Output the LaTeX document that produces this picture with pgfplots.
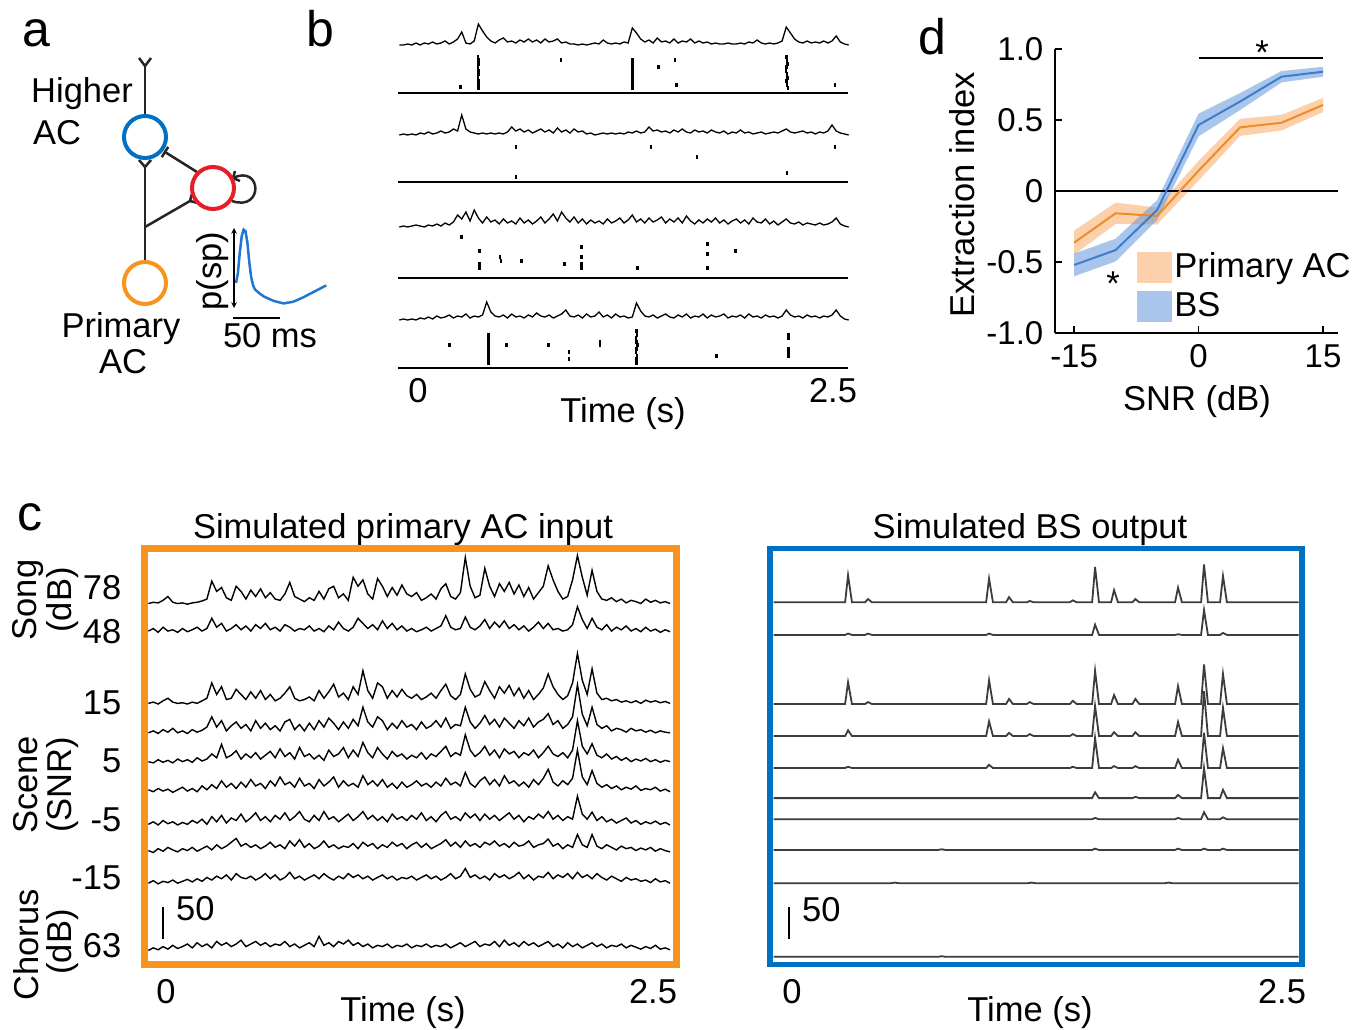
\documentclass[border=0pt]{standalone}
\usepackage{fontspec}
\setmainfont{Liberation Sans}
\usepackage{pgfplots}
\pgfplotsset{compat=1.18}
\definecolor{acOrange}{RGB}{247,148,30}
\definecolor{bsBlue}{RGB}{0,112,192}
\definecolor{inRed}{RGB}{230,30,40}
\definecolor{lnOrange}{RGB}{240,140,40}
\definecolor{lnBlue}{RGB}{60,125,205}
\definecolor{bdOrange}{RGB}{248,170,100}
\definecolor{bdBlue}{RGB}{100,150,220}
\definecolor{trGray}{RGB}{60,60,60}
\definecolor{spBlue}{RGB}{30,120,210}

% one trace per call: offset, values (one per time step)
\newcommand{\ctrace}[2]{\addplot[black, line width=1.4pt] table[row sep=\\, header=false, x expr=\coordindex*0.025-0.09, y expr=\thisrowno{0}+#1] {#2};}
\newcommand{\btrace}[2]{\addplot[black, line width=1.3pt] table[row sep=\\, header=false, x expr=\coordindex*0.025-0.1, y expr=\thisrowno{0}+#1] {#2};}
\newcommand{\rtrace}[2]{\addplot[trGray, line width=1.8pt] table[row sep=\\, header=false, x index=0, y expr=\thisrowno{1}+#1] {#2};}

\begin{document}
\fontsize{34.5}{41}\selectfont
\begin{tikzpicture}
\path[use as bounding box] (0,0) rectangle (1368pt,-1030pt);

\begin{scope}[x=1pt, y=1pt]
% panel letters
\node[font=\fontsize{50}{60}\selectfont, anchor=base] at (36,-47) {a};
\node[font=\fontsize{50}{60}\selectfont, anchor=base] at (320,-47) {b};
\node[font=\fontsize{50}{60}\selectfont, anchor=base] at (30,-530) {c};
\node[font=\fontsize{50}{60}\selectfont, anchor=base] at (932,-55) {d};

% ---- panel a: circuit
\draw[line width=2.5pt, black!85] (139,-58) -- (145,-66) -- (151,-58);
\draw[line width=2.5pt, black!85] (145,-66) -- (145,-115);
\draw[line width=2.5pt, black!85] (139,-160) -- (145,-167) -- (151,-160);
\draw[line width=2.5pt, black!85] (145,-167) -- (145,-261);
\draw[line width=2.5pt, black!85] (145,-227) -- (190,-201);
\draw[line width=2.5pt, black!85] (191.8,-194.2) -- (190,-201) -- (196.8,-202.8);
\draw[line width=2.5pt, black!85] (197,-172) -- (165,-152);
\draw[line width=2.5pt, black!85] (168.2,-146.9) -- (161.8,-157.1);
\draw[line width=2.5pt, black!85] (233,-178) .. controls (262,-164) and (264,-212) .. (232,-201);
\draw[line width=2.5pt, black!85] (235,-171) -- (233,-178) -- (240,-181);
\draw[bsBlue, line width=4pt] (145,-137) circle (21);
\draw[inRed, line width=4pt] (213,-188) circle (21);
\draw[acOrange, line width=4pt] (145,-283) circle (21);
\node[anchor=base] at (82,-103) {Higher};
\node[anchor=base] at (57,-145) {AC};
\node[anchor=base] at (121,-337) {Primary};
\node[anchor=base] at (123,-373) {AC};
\node[rotate=90] at (213,-271) {p(sp)};
\draw[<->, >=stealth, line width=1.5pt] (234,-228) -- (234,-308);
\draw[line width=2pt] (233,-318) -- (280,-318);
\node[anchor=base] at (270,-347) {50 ms};

% ---- panel b labels
\node[anchor=base] at (418,-402) {0};
\node[anchor=base] at (833,-402) {2.5};
\node[anchor=base] at (623,-422) {Time (s)};

% ---- panel d labels
\node[rotate=90] at (962,-195) {Extraction index};
\node[anchor=base] at (1197,-410) {SNR (dB)};
\node[anchor=base] at (1262,-65) {*};
\node[anchor=base] at (1113,-295) {*};

% ---- panel c labels
\node[anchor=base] at (403,-538) {Simulated primary AC input};
\node[anchor=base] at (1030,-538) {Simulated BS output};
\node[anchor=base east] at (133,-599) {78};
\node[anchor=base east] at (133,-643) {48};
\node[anchor=base east] at (133,-714) {15};
\node[anchor=base east] at (133,-772) {5};
\node[anchor=base east] at (133,-831) {-5};
\node[anchor=base east] at (133,-889) {-15};
\node[anchor=base east] at (133,-957) {63};
\node[rotate=90] at (28,-600) {Song};
\node[rotate=90] at (63,-600) {(dB)};
\node[rotate=90] at (26,-785) {Scene};
\node[rotate=90] at (63,-785) {(SNR)};
\node[rotate=90] at (26,-945) {Chorus};
\node[rotate=90] at (63,-942) {(dB)};
\node[anchor=base] at (166,-1003) {0};
\node[anchor=base] at (653,-1003) {2.5};
\node[anchor=base] at (403,-1021) {Time (s)};
\node[anchor=base] at (792,-1003) {0};
\node[anchor=base] at (1282,-1003) {2.5};
\node[anchor=base] at (1030,-1021) {Time (s)};
\draw[line width=1.5pt] (163,-907) -- (163,-939);
\node[anchor=base west, inner sep=0pt] at (176,-920) {50};
\draw[line width=1.5pt] (789,-907) -- (789,-939);
\node[anchor=base west, inner sep=0pt] at (802,-921) {50};
\end{scope}

% ---- panel a inset: spike probability waveform
\begin{axis}[at={(236pt,-310pt)}, anchor=south west, scale only axis,
  width=95pt, height=82pt, xmin=0, xmax=100, ymin=0, ymax=1, hide axis, clip=false]
\addplot[spBlue, line width=2.5pt] coordinates {(0,0.33)(2,0.45)(4,0.7)(6,0.9)(8,0.98)(10,0.96)(12,0.82)(14,0.58)(16,0.4)(18,0.3)(20,0.25)(25,0.2)(30,0.16)(40,0.11)(50,0.08)(60,0.1)(70,0.15)(80,0.21)(90,0.27)(95,0.3)};
\end{axis}

% ---- panel b: traces and rasters
\begin{axis}[at={(398pt,-375pt)}, anchor=south west, scale only axis,
  width=450pt, height=360pt, xmin=-0.108, xmax=2.596, ymin=0, ymax=360,
  hide axis, clip=false]
\btrace{330}{0\\0\\1\\0\\2\\0\\2\\1\\3\\1\\2\\4\\1\\3\\6\\13\\2\\1\\4\\21\\14\\8\\4\\2\\5\\7\\3\\4\\2\\5\\3\\6\\3\\5\\2\\6\\3\\4\\6\\2\\3\\1\\1\\0\\1\\0\\1\\2\\1\\5\\2\\1\\2\\1\\3\\2\\17\\12\\6\\3\\5\\2\\7\\3\\4\\2\\6\\2\\4\\3\\6\\2\\4\\2\\3\\1\\2\\1\\1\\2\\1\\1\\2\\1\\3\\2\\5\\2\\1\\2\\1\\2\\4\\18\\12\\6\\3\\2\\4\\2\\3\\2\\4\\2\\4\\9\\3\\1\\0\\}
\btrace{240}{0\\1\\0\\1\\0\\2\\1\\3\\1\\2\\4\\2\\3\\6\\4\\20\\6\\3\\2\\1\\2\\1\\2\\1\\2\\1\\3\\8\\4\\6\\3\\5\\2\\4\\6\\3\\5\\2\\7\\3\\5\\2\\6\\3\\4\\1\\2\\0\\1\\2\\1\\2\\1\\2\\1\\3\\2\\4\\2\\3\\8\\4\\5\\3\\4\\2\\5\\3\\6\\3\\2\\5\\3\\4\\2\\5\\3\\2\\4\\1\\3\\2\\5\\2\\3\\1\\2\\3\\1\\2\\3\\2\\4\\6\\3\\2\\3\\4\\2\\3\\1\\3\\2\\4\\10\\4\\2\\1\\0\\}
\btrace{148}{0\\1\\0\\1\\2\\1\\0\\2\\1\\3\\1\\4\\2\\5\\12\\8\\15\\6\\17\\9\\4\\10\\5\\7\\3\\8\\4\\6\\3\\9\\4\\7\\3\\6\\10\\4\\8\\13\\6\\15\\9\\5\\10\\4\\8\\3\\7\\4\\6\\3\\8\\4\\6\\9\\4\\7\\12\\5\\8\\4\\9\\5\\7\\10\\4\\8\\5\\9\\4\\11\\6\\3\\7\\4\\8\\5\\9\\4\\7\\3\\6\\8\\4\\7\\3\\9\\5\\4\\8\\3\\6\\2\\5\\8\\4\\3\\5\\2\\4\\3\\2\\4\\2\\3\\5\\9\\3\\1\\0\\}
\btrace{55}{0\\1\\0\\1\\0\\2\\1\\3\\1\\4\\2\\3\\5\\2\\4\\3\\6\\2\\4\\3\\5\\18\\8\\4\\3\\5\\2\\6\\3\\4\\2\\5\\3\\7\\4\\3\\5\\2\\4\\6\\10\\4\\3\\5\\2\\6\\3\\4\\8\\3\\5\\2\\6\\3\\4\\2\\3\\17\\9\\4\\3\\5\\2\\4\\6\\3\\2\\5\\3\\6\\2\\4\\3\\6\\2\\5\\3\\4\\6\\2\\4\\3\\5\\2\\6\\3\\4\\2\\5\\3\\4\\2\\4\\10\\5\\3\\4\\2\\5\\3\\4\\2\\4\\3\\5\\10\\4\\1\\0\\}
\pgfplotsset{raster/.style={only marks, mark=|, mark size=2pt, mark options={line width=2.6pt}, black}}
\addplot[raster] coordinates {(0.269,288)(0.372,318)(0.376,314.5)(0.374,311)(0.372,307.5)(0.375,304)(0.377,300.5)(0.373,297)(0.375,293.5)(0.374,290)(0.376,286.5)(0.871,314.5)(1.30,314.5)(1.30,311)(1.30,307.5)(1.30,304)(1.30,300.5)(1.30,297)(1.30,293.5)(1.30,290)(1.30,286.5)(1.456,307.5)(1.556,314.5)(1.567,290)(2.226,318)(2.230,314.5)(2.233,311)(2.228,307.5)(2.224,304)(2.229,300.5)(2.233,297)(2.226,293.5)(2.230,290)(2.236,286.5)(2.518,290)};
\addplot[raster] coordinates {(0.601,228)(0.601,198.3)(1.412,228)(1.689,218)(2.23,201.6)(2.518,228)};
\addplot[raster] coordinates {(0.275,138)(0.380,124.4)(0.380,110.8)(0.380,107.4)(0.505,117.6)(0.51,114.2)(0.635,114.2)(0.891,110.8)(0.996,127.8)(0.996,117.6)(0.996,110.8)(0.996,107.4)(1.33,107.4)(1.753,131.2)(1.753,121)(1.753,107.4)(1.921,124.4)};
\addplot[raster] coordinates {(0.2,30)(0.435,40.5)(0.435,37)(0.435,33.5)(0.435,30)(0.435,26.5)(0.435,23)(0.435,19.5)(0.435,16)(0.435,12.5)(0.545,30)(0.795,30)(0.919,23)(0.919,16)(1.106,33.5)(1.106,30)(1.325,44)(1.328,40.5)(1.322,37)(1.326,33.5)(1.33,30)(1.324,26.5)(1.321,23)(1.327,19.5)(1.324,16)(1.326,12.5)(1.807,19.5)(2.238,40.5)(2.238,37)(2.238,26.5)(2.238,23)(2.238,19.5)};
\addplot[black, line width=2pt] coordinates {(-0.108,282)(2.596,282)};
\addplot[black, line width=2pt] coordinates {(-0.108,193)(2.596,193)};
\addplot[black, line width=2pt] coordinates {(-0.108,97)(2.596,97)};
\addplot[black, line width=2pt] coordinates {(-0.108,7)(2.596,7)};
\end{axis}

% ---- panel d: extraction index
\begin{axis}[at={(1055pt,-333pt)}, anchor=south west, scale only axis,
  width=283pt, height=284pt, xmin=-17.3, xmax=16.8, ymin=-1, ymax=1,
  axis x line=bottom, axis y line=left, axis line style={-, line width=1.5pt},
  xtick={-15,0,15}, xticklabels={-15,0,15},
  ytick={-1,-0.5,0,0.5,1}, yticklabels={-1.0,-0.5,0,0.5,1.0},
  tick align=inside, major tick length=7pt, tick style={line width=1.5pt, black},
  tick label style={font=\fontsize{33}{39}\selectfont},
  clip=false, legend cell align=left,
  legend style={at={(0.290,0.290)}, anchor=north west, draw=none, fill=none,
    inner sep=0pt, row sep=5pt, nodes={inner sep=2pt}, font=\fontsize{34.5}{41}\selectfont},
  legend image code/.code={\fill[#1] (0pt,-15pt) rectangle (35pt,16pt);}]
\addplot[fill=bdOrange, fill opacity=0.55, draw=none] coordinates {(-15,-0.279)(-10,-0.082)(-5,-0.116)(0,0.213)(5,0.508)(10,0.536)(15,0.656)(15,0.556)(10,0.426)(5,0.388)(0,0.073)(-5,-0.236)(-10,-0.232)(-15,-0.449)} -- cycle;
\addlegendentry{Primary AC}
\addplot[fill=bdBlue, fill opacity=0.55, draw=none] coordinates {(-15,-0.441)(-10,-0.336)(-5,-0.064)(0,0.545)(5,0.69)(10,0.845)(15,0.875)(15,0.805)(10,0.765)(5,0.57)(0,0.385)(-5,-0.204)(-10,-0.496)(-15,-0.601)} -- cycle;
\addlegendentry{BS}
\addplot[black, line width=1.5pt, forget plot] coordinates {(-17.3,0)(16.8,0)};
\addplot[lnOrange, line width=2pt, forget plot] coordinates {(-15,-0.364)(-10,-0.157)(-5,-0.176)(0,0.143)(5,0.448)(10,0.481)(15,0.606)};
\addplot[lnBlue, line width=2pt, forget plot] coordinates {(-15,-0.521)(-10,-0.416)(-5,-0.134)(0,0.465)(5,0.63)(10,0.805)(15,0.84)};
\draw[line width=1.5pt] (axis cs:0,0.937) -- (axis cs:15,0.937);
\end{axis}

% ---- panel c left: simulated primary AC input
\begin{axis}[at={(144.5pt,-964.5pt)}, anchor=south west, scale only axis,
  width=532pt, height=416pt, xmin=-0.110, xmax=2.618, ymin=0, ymax=650,
  hide axis, clip mode=individual]
\ctrace{561}{3\\5\\4\\8\\14\\5\\3\\4\\2\\4\\5\\7\\10\\38\\22\\28\\12\\8\\30\\22\\10\\24\\14\\26\\12\\20\\10\\8\\18\\36\\14\\10\\6\\12\\8\\22\\10\\26\\30\\12\\18\\8\\44\\30\\40\\18\\10\\42\\30\\14\\28\\16\\32\\18\\14\\20\\8\\12\\18\\10\\26\\34\\14\\10\\20\\75\\30\\12\\16\\58\\30\\14\\34\\22\\36\\18\\32\\14\\28\\10\\20\\30\\62\\40\\22\\10\\14\\40\\78\\44\\16\\55\\22\\10\\8\\12\\6\\10\\4\\8\\6\\3\\10\\5\\8\\4\\6\\3\\}
\ctrace{515}{6\\10\\4\\12\\6\\8\\4\\10\\5\\8\\12\\6\\10\\26\\12\\18\\6\\10\\16\\8\\14\\6\\16\\10\\18\\8\\12\\6\\16\\12\\6\\10\\8\\14\\6\\10\\5\\14\\8\\20\\10\\6\\12\\26\\18\\10\\16\\8\\22\\10\\18\\8\\14\\6\\10\\5\\8\\12\\6\\10\\14\\30\\12\\8\\10\\28\\12\\8\\14\\24\\10\\20\\12\\22\\10\\16\\8\\14\\6\\12\\20\\10\\18\\8\\10\\6\\8\\16\\44\\24\\10\\26\\12\\8\\16\\6\\12\\8\\14\\6\\10\\5\\12\\6\\9\\4\\8\\5\\}
\ctrace{404}{4\\6\\3\\8\\12\\6\\4\\5\\3\\6\\4\\8\\12\\36\\18\\30\\10\\12\\26\\18\\10\\22\\12\\24\\10\\18\\8\\12\\20\\30\\12\\8\\10\\14\\8\\24\\12\\22\\34\\14\\20\\10\\30\\18\\55\\24\\12\\36\\30\\12\\24\\14\\26\\16\\12\\18\\10\\14\\20\\12\\24\\34\\16\\10\\18\\50\\26\\14\\18\\38\\24\\12\\30\\20\\32\\16\\28\\12\\24\\10\\18\\28\\50\\30\\18\\10\\16\\36\\82\\40\\18\\58\\20\\10\\12\\8\\10\\6\\8\\5\\8\\4\\9\\6\\8\\5\\7\\4\\}
\ctrace{357}{5\\8\\4\\10\\6\\12\\5\\8\\4\\10\\6\\9\\14\\30\\14\\24\\8\\16\\22\\12\\18\\8\\24\\12\\20\\10\\16\\8\\22\\26\\10\\18\\8\\20\\10\\24\\14\\28\\20\\10\\22\\12\\26\\16\\45\\22\\14\\30\\24\\10\\20\\12\\24\\14\\18\\10\\22\\12\\16\\24\\14\\28\\12\\18\\16\\45\\22\\12\\20\\32\\18\\26\\14\\28\\20\\12\\24\\16\\28\\14\\22\\26\\35\\18\\24\\12\\18\\30\\80\\34\\16\\45\\18\\12\\16\\8\\12\\10\\6\\12\\8\\10\\6\\9\\5\\8\\6\\5\\}
\ctrace{311}{6\\4\\9\\5\\8\\4\\10\\6\\9\\5\\12\\7\\10\\18\\12\\33\\12\\16\\23\\10\\18\\12\\20\\10\\16\\22\\12\\26\\14\\20\\10\\28\\14\\18\\10\\16\\8\\24\\14\\18\\28\\12\\24\\14\\36\\20\\12\\28\\18\\10\\22\\14\\18\\10\\16\\12\\20\\10\\18\\14\\22\\30\\14\\20\\16\\48\\24\\14\\20\\30\\16\\24\\12\\26\\18\\22\\12\\20\\16\\24\\12\\20\\30\\18\\14\\20\\12\\24\\70\\30\\18\\34\\16\\12\\18\\10\\14\\8\\12\\6\\10\\7\\11\\6\\9\\5\\8\\6\\}
\ctrace{265}{8\\5\\10\\6\\9\\4\\8\\12\\6\\10\\5\\14\\8\\16\\10\\22\\12\\18\\10\\20\\12\\24\\14\\18\\10\\22\\14\\28\\16\\20\\12\\26\\14\\18\\10\\24\\14\\20\\28\\12\\22\\14\\18\\12\\30\\16\\22\\14\\24\\12\\18\\10\\20\\12\\16\\22\\14\\18\\12\\20\\14\\26\\16\\20\\14\\35\\18\\12\\22\\28\\16\\24\\14\\30\\18\\22\\14\\20\\12\\24\\16\\26\\40\\20\\14\\22\\16\\26\\70\\28\\16\\38\\18\\12\\16\\10\\14\\8\\12\\9\\14\\7\\10\\8\\12\\6\\9\\5\\}
\ctrace{213}{6\\10\\5\\12\\7\\10\\5\\9\\6\\12\\8\\14\\6\\18\\10\\20\\8\\16\\12\\22\\10\\16\\24\\12\\18\\10\\20\\14\\24\\12\\18\\26\\14\\10\\20\\12\\26\\14\\18\\10\\16\\22\\12\\18\\26\\14\\20\\12\\18\\10\\22\\14\\18\\12\\20\\14\\24\\12\\18\\10\\20\\26\\14\\18\\12\\24\\16\\22\\12\\22\\14\\20\\12\\18\\24\\14\\20\\10\\18\\14\\22\\16\\26\\14\\20\\12\\18\\14\\50\\22\\14\\25\\12\\18\\10\\14\\8\\12\\16\\8\\12\\6\\10\\7\\11\\6\\9\\5\\}
\ctrace{171}{7\\4\\10\\6\\12\\8\\5\\10\\7\\12\\6\\10\\14\\8\\16\\10\\14\\20\\26\\14\\18\\12\\16\\10\\14\\20\\12\\16\\10\\22\\14\\24\\12\\18\\10\\14\\22\\12\\16\\10\\14\\12\\18\\10\\20\\14\\18\\10\\16\\12\\20\\14\\18\\10\\16\\20\\12\\18\\10\\14\\18\\24\\14\\20\\12\\22\\14\\18\\12\\20\\16\\22\\14\\18\\12\\20\\14\\16\\22\\12\\16\\18\\25\\14\\18\\10\\16\\12\\32\\16\\12\\32\\14\\10\\16\\12\\8\\14\\10\\12\\7\\11\\8\\12\\6\\10\\7\\5\\}
\ctrace{122}{5\\9\\4\\8\\6\\10\\5\\8\\11\\7\\12\\8\\14\\10\\16\\12\\18\\10\\20\\14\\12\\16\\10\\14\\20\\12\\18\\10\\14\\22\\12\\16\\10\\14\\18\\12\\20\\14\\10\\16\\12\\20\\14\\18\\12\\16\\10\\14\\18\\12\\16\\10\\14\\12\\16\\10\\14\\18\\12\\16\\10\\14\\20\\12\\16\\28\\14\\18\\12\\16\\10\\20\\14\\18\\12\\16\\22\\12\\18\\10\\16\\14\\22\\12\\18\\14\\20\\12\\22\\14\\18\\12\\20\\14\\10\\16\\12\\8\\14\\10\\12\\8\\10\\6\\12\\7\\9\\5\\}
\ctrace{18}{4\\8\\5\\10\\6\\12\\7\\10\\14\\8\\16\\10\\14\\8\\18\\12\\16\\10\\14\\20\\10\\14\\18\\12\\16\\10\\14\\12\\18\\10\\14\\8\\12\\16\\10\\26\\12\\16\\10\\18\\14\\20\\12\\16\\10\\14\\8\\12\\10\\14\\8\\12\\10\\14\\8\\12\\10\\14\\9\\12\\10\\14\\8\\12\\16\\10\\14\\18\\10\\14\\12\\18\\10\\20\\12\\16\\10\\18\\12\\16\\10\\14\\18\\10\\14\\8\\16\\10\\14\\8\\12\\16\\10\\14\\8\\12\\10\\14\\8\\12\\9\\6\\10\\7\\12\\6\\8\\5\\}
\draw[acOrange, line width=6.5pt] (rel axis cs:0,0) rectangle (rel axis cs:1,1);
\end{axis}

% ---- panel c right: simulated BS output
\begin{axis}[at={(770pt,-964.5pt)}, anchor=south west, scale only axis,
  width=532pt, height=416pt, xmin=-0.118, xmax=2.602, ymin=0, ymax=650,
  hide axis, clip mode=individual]
\rtrace{566}{-0.1 0\\0.266 0\\0.281 42\\0.301 0\\0.368 0\\0.383 5\\0.403 0\\0.987 0\\1.002 37\\1.022 0\\1.089 0\\1.104 8\\1.124 0\\1.195 0\\1.21 2\\1.23 0\\1.415 0\\1.43 3\\1.45 0\\1.529 0\\1.544 55\\1.564 0\\1.626 0\\1.641 19\\1.661 0\\1.735 0\\1.75 5\\1.77 0\\1.953 0\\1.968 23\\1.988 0\\2.086 0\\2.101 59\\2.121 0\\2.183 0\\2.198 41\\2.218 0\\2.585 0\\}
\rtrace{515}{-0.1 0\\0.266 0\\0.281 2\\0.301 0\\0.368 0\\0.383 2\\0.403 0\\0.987 0\\1.002 2\\1.022 0\\1.529 0\\1.544 16\\1.564 0\\1.953 0\\1.968 1\\1.988 0\\2.086 0\\2.101 39\\2.121 0\\2.183 0\\2.198 3\\2.218 0\\2.585 0\\}
\rtrace{407}{-0.1 0\\0.266 0\\0.281 34\\0.301 0\\0.368 0\\0.383 3\\0.403 0\\0.987 0\\1.002 37\\1.022 0\\1.089 0\\1.104 8\\1.124 0\\1.195 0\\1.21 3\\1.23 0\\1.415 0\\1.43 5\\1.45 0\\1.529 0\\1.544 52\\1.564 0\\1.626 0\\1.641 14\\1.661 0\\1.735 0\\1.75 8\\1.77 0\\1.953 0\\1.968 28\\1.988 0\\2.086 0\\2.101 62\\2.121 0\\2.183 0\\2.198 47\\2.218 0\\2.585 0\\}
\rtrace{357}{-0.1 0\\0.266 0\\0.281 9\\0.301 0\\0.987 0\\1.002 23\\1.022 0\\1.089 0\\1.104 5\\1.124 0\\1.195 0\\1.21 3\\1.23 0\\1.415 0\\1.43 3\\1.45 0\\1.529 0\\1.544 47\\1.564 0\\1.626 0\\1.641 6\\1.661 0\\1.735 0\\1.75 6\\1.77 0\\1.953 0\\1.968 22\\1.988 0\\2.086 0\\2.101 70\\2.121 0\\2.183 0\\2.198 44\\2.218 0\\2.585 0\\}
\rtrace{307}{-0.1 0\\0.266 0\\0.281 2\\0.301 0\\0.987 0\\1.002 5\\1.022 0\\1.415 0\\1.43 2\\1.45 0\\1.529 0\\1.544 47\\1.564 0\\1.626 0\\1.641 3\\1.661 0\\1.735 0\\1.75 3\\1.77 0\\1.953 0\\1.968 13\\1.988 0\\2.086 0\\2.101 55\\2.121 0\\2.183 0\\2.198 31\\2.218 0\\2.585 0\\}
\rtrace{260}{-0.1 0\\1.529 0\\1.544 9\\1.564 0\\1.735 0\\1.75 2\\1.77 0\\1.953 0\\1.968 5\\1.988 0\\2.086 0\\2.101 47\\2.121 0\\2.183 0\\2.198 13\\2.218 0\\2.585 0\\}
\rtrace{227}{-0.1 0\\1.529 0\\1.544 2\\1.564 0\\1.953 0\\1.968 2\\1.988 0\\2.086 0\\2.101 11\\2.121 0\\2.183 0\\2.198 3\\2.218 0\\2.585 0\\}
\rtrace{179}{-0.1 0\\0.74 0\\0.76 1\\0.78 0\\1.529 0\\1.544 2\\1.564 0\\1.953 0\\1.968 2\\1.988 0\\2.086 0\\2.101 2\\2.121 0\\2.183 0\\2.198 2\\2.218 0\\2.585 0\\}
\rtrace{127}{-0.1 0\\0.5 0\\0.52 1\\0.54 0\\1.2 0\\1.22 1\\1.24 0\\1.9 0\\1.92 1\\1.94 0\\2.585 0\\}
\rtrace{12}{-0.1 0\\0.74 0\\0.76 1\\0.78 0\\2.585 0\\}
\draw[bsBlue, line width=5.5pt] (rel axis cs:0,0) rectangle (rel axis cs:1,1);
\end{axis}
\end{tikzpicture}
\end{document}
